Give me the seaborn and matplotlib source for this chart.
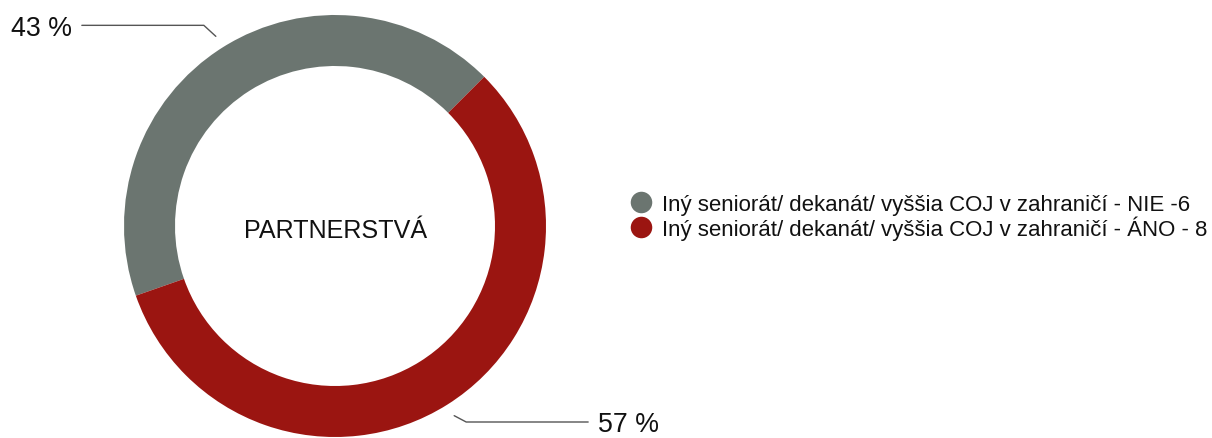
import matplotlib
matplotlib.use("Agg")
import matplotlib.pyplot as plt
import seaborn as sns
import numpy as np
from matplotlib.lines import Line2D

# Partnership answers (counts per category)
categories = [
    "Iný seniorát/ dekanát/ vyššia COJ v zahraničí - NIE -6",
    "Iný seniorát/ dekanát/ vyššia COJ v zahraničí - ÁNO - 8",
]
counts = [6, 8]
colors = ["#6b7570", "#9b1511"]
center_title = "PARTNERSTVÁ"

sns.set_theme(style="white")
plt.rcParams["font.family"] = ["Liberation Sans", "DejaVu Sans"]

W, H = 1212, 439
fig = plt.figure(figsize=(W / 100, H / 100), dpi=100)
ax = fig.add_axes([0, 0, 1, 1])

cx, cy = 335, H - 227
R = 211
ring = 51
start = 45
wedges, _ = ax.pie(
    counts, colors=colors, startangle=start, counterclock=True,
    radius=R, center=(cx, cy),
    wedgeprops=dict(width=ring, linewidth=0),
)
ax.set_xlim(0, W)
ax.set_ylim(0, H)
ax.set_aspect("equal")
ax.axis("off")

ax.text(cx + 1, cy - 10.5, center_title, ha="center", va="baseline",
        fontsize=18.1, color="#111111")

# Percentage labels with leader lines; keep labels inside the canvas
total = sum(counts)
pct_size = 19.3
base_drop = 9.5
margin = 16
for w, c in zip(wedges, counts):
    mid = np.deg2rad((w.theta1 + w.theta2) / 2)
    dx, dy = np.cos(mid), np.sin(mid)
    p1 = np.array([cx + (R + 13) * dx, cy + (R + 13) * dy])
    side = np.sign(dx)
    vert = np.sign(dy)
    p2 = p1 + np.array([side * 12, vert * 11])
    p2[1] = min(max(p2[1], margin), H - margin)
    p3 = p2 + np.array([side * 122, 0])
    ax.plot([p1[0], p2[0], p3[0]], [p1[1], p2[1], p3[1]],
            color="#555555", lw=1.0, solid_joinstyle="miter")
    pct = f"{round(100 * c / total)} %"
    ax.text(p3[0] + side * 10, p3[1] - base_drop, pct,
            ha="left" if side > 0 else "right", va="baseline",
            fontsize=pct_size, color="#111111")

handles = [Line2D([0], [0], marker="o", linestyle="none", markersize=15.5,
                  markerfacecolor=col, markeredgewidth=0) for col in colors]
ax.legend(handles, categories, loc="center left",
          bbox_to_anchor=(619 / W, 1 - 218 / H), bbox_transform=fig.transFigure,
          frameon=False, fontsize=16.0, handletextpad=0.48,
          labelspacing=0.0, handlelength=0.95, borderpad=0,
          labelcolor="#111111")

fig.savefig("out.png", dpi=100, facecolor="white")
